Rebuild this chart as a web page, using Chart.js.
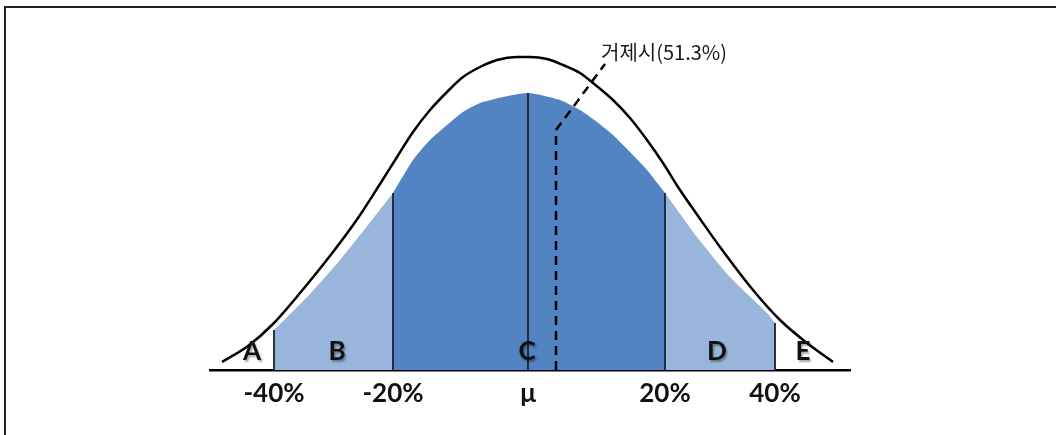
<!DOCTYPE html>
<html>
<head>
<meta charset="utf-8">
<script src="https://cdn.jsdelivr.net/npm/chart.js@4.4.1/dist/chart.umd.min.js"></script>
<style>
  html, body { margin: 0; padding: 0; background: #fff; }
  #wrap { position: relative; width: 1056px; height: 435px; }
  #frame { position: absolute; left: 4px; top: 6px; right: 0; bottom: 0;
           border-left: 2px solid #222; border-top: 2px solid #222; }
  canvas { position: absolute; left: 0; top: 0; }
</style>
</head>
<body>
<div id="wrap">
  <div id="frame"></div>
  <canvas id="dist" width="1056" height="435"></canvas>
</div>
<script>
// boundaries of the zones on the x axis, and their labels
const tickValues = [-254, -135, 0, 137, 247];
const tickLabels = ['-40%', '-20%', 'μ', '20%', '40%'];

// outer bell curve (black outline)
const curveX = [-306, -280, -255, -228, -195, -170, -148, -131, -115, -98, -81, -65, -48, -31, -11, 2, 19, 35, 52, 65, 85, 102, 119, 135, 150, 170, 192, 225, 252, 279, 305];
const curveY = [8, 24, 46, 77, 118, 152, 186, 213, 238, 260, 278, 293, 303, 310, 313, 313, 311, 305, 297, 287, 270, 252, 230, 207, 183, 154, 123, 80, 50, 27, 8];

// filled distribution under the curve
const fillX = [-254, -218, -188, -160, -135, -115, -98, -81, -65, -48, -25, 0, 32, 52, 69, 85, 102, 119, 137, 169, 202, 239, 247];
const fillY = [40, 76, 110, 145, 177, 210, 230, 245, 258, 267, 273, 277, 270, 260, 248, 235, 218, 200, 177, 133, 93, 57, 47];

// zone letters
const zoneLetters = ['A', 'B', 'C', 'D', 'E'];
const zoneX = [-276, -191, -1, 189, 275];
const zoneY = [18, 18, 18, 18, 18];

// marker for 거제시
const markerX = [28, 28, 77];
const markerY = [0, 240, 306];
const markerLabel = '거제시(51.3%)';

const light = '#98b6dc';
const dark = '#5283c2';

function pts(xs, ys) {
    return xs.map((x, i) => ({x: x, y: ys[i]}));
}

function slice(lo, hi) {
    const out = [];
    fillX.forEach((x, i) => {
        if (x >= lo && x <= hi) out.push({x: x, y: fillY[i]});
    });
    return out;
}

// vertical dividers at each zone boundary, up to the fill edge
const dividers = [];
tickValues.forEach((t) => {
    const i = fillX.indexOf(t);
    dividers.push({x: t, y: 0}, {x: t, y: fillY[i]}, {x: t, y: null});
});

const overlay = {
    id: 'overlay',
    afterDatasetsDraw(chart) {
        const ctx = chart.ctx;
        const xs = chart.scales.x, ys = chart.scales.y;
        ctx.save();
        ctx.font = 'bold 26px Lato';
        ctx.textAlign = 'center';
        ctx.textBaseline = 'middle';
        ctx.fillStyle = '#111';
        ctx.shadowColor = 'rgba(0,0,0,0.35)';
        ctx.shadowOffsetX = 1.5;
        ctx.shadowOffsetY = 1.5;
        ctx.shadowBlur = 2;
        zoneLetters.forEach((l, i) => {
            ctx.fillText(l, xs.getPixelForValue(zoneX[i]), ys.getPixelForValue(zoneY[i]));
        });
        ctx.restore();

        ctx.save();
        ctx.font = '20px "Noto Sans CJK KR"';
        ctx.textAlign = 'left';
        ctx.textBaseline = 'middle';
        ctx.fillStyle = '#1a1a1a';
        const last = markerX.length - 1;
        ctx.fillText(markerLabel, xs.getPixelForValue(markerX[last]) - 4, ys.getPixelForValue(markerY[last]) - 12);
        ctx.restore();
    }
};

new Chart(document.getElementById('dist'), {
    type: 'line',
    data: {
        datasets: [
            {data: slice(tickValues[0], tickValues[1]), fill: 'origin', backgroundColor: light, borderWidth: 0, tension: 0.2, order: 5},
            {data: slice(tickValues[1], tickValues[3]), fill: 'origin', backgroundColor: dark, borderWidth: 0, tension: 0.2, order: 5},
            {data: slice(tickValues[3], tickValues[4]), fill: 'origin', backgroundColor: light, borderWidth: 0, tension: 0.2, order: 5},
            {data: dividers, borderColor: '#1b2238', borderWidth: 1.8, spanGaps: false, order: 3},
            {data: pts(curveX, curveY), borderColor: '#000', borderWidth: 2.5, cubicInterpolationMode: 'monotone', order: 2},
            {data: pts(markerX, markerY), borderColor: '#000', borderWidth: 2.5, borderDash: [9, 6], order: 1}
        ]
    },
    options: {
        responsive: false,
        animation: false,
        devicePixelRatio: 1,
        elements: {point: {radius: 0, hoverRadius: 0}},
        layout: {padding: {left: 210, right: 206, top: 50, bottom: 0}},
        plugins: {legend: {display: false}, tooltip: {enabled: false}},
        scales: {
            x: {
                type: 'linear',
                min: -318,
                max: 322,
                afterBuildTicks(scale) {
                    scale.ticks = tickValues.map((v) => ({value: v}));
                },
                afterFit(scale) {
                    scale.height = 65;
                },
                grid: {display: false, drawTicks: false},
                border: {display: true, color: '#000', width: 2.5},
                ticks: {
                    autoSkip: false,
                    maxRotation: 0,
                    padding: 8,
                    color: '#111',
                    font: {family: 'Lato', weight: 'bold', size: 26},
                    callback: (v, i) => tickLabels[i]
                }
            },
            y: {
                display: false,
                min: 0,
                max: 320
            }
        }
    },
    plugins: [overlay]
});
</script>
</body>
</html>
